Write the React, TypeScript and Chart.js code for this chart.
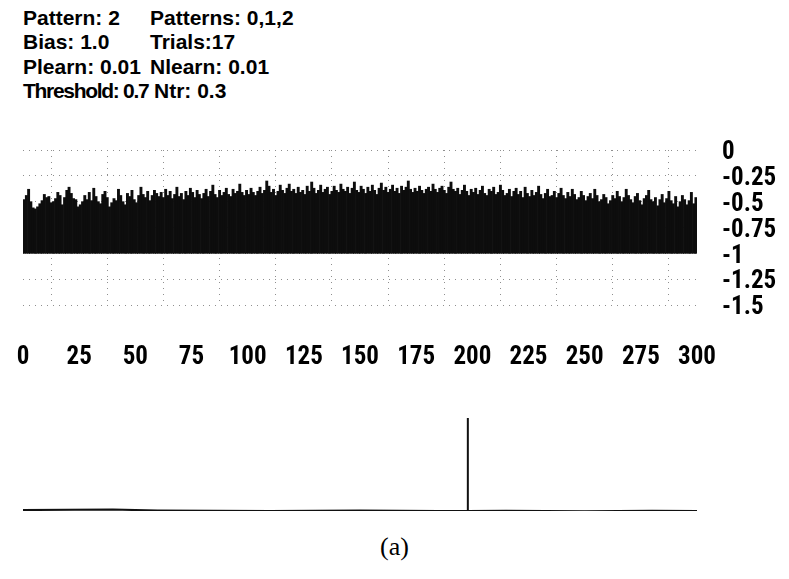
import React, { useEffect, useRef } from "react";
import { Chart, registerables } from "chart.js";

Chart.register(...registerables);

// ---- header texts ----
const headerLeft = ["Pattern: 2", "Bias: 1.0", "Plearn: 0.01", "Threshold: 0.7"];
const headerRight = ["Patterns: 0,1,2", "Trials:17", "Nlearn: 0.01", "Ntr: 0.3"];
const caption = "(a)";

// ---- axes ----
const xMin = 0;
const xMax = 300;
const xStep = 25;
const yMin = -1.5;
const yMax = 0;
const yStep = 0.25;
const barBase = -1;

// ---- top chart: activation per trial step (bar tops, base at -1) ----
const activation = [
  -0.48, -0.44, -0.38, -0.50, -0.56, -0.57, -0.55, -0.52, -0.49, -0.43, -0.46, -0.45, -0.51, -0.50, -0.47, -0.41, -0.44, -0.53, -0.46, -0.39,
  -0.36, -0.42, -0.47, -0.48, -0.55, -0.53, -0.50, -0.44, -0.48, -0.41, -0.49, -0.37, -0.45, -0.50, -0.52, -0.43, -0.40, -0.46, -0.55, -0.51,
  -0.47, -0.49, -0.38, -0.44, -0.50, -0.53, -0.42, -0.45, -0.39, -0.48, -0.51, -0.44, -0.36, -0.43, -0.46, -0.40, -0.49, -0.44, -0.39, -0.42,
  -0.45, -0.41, -0.46, -0.38, -0.44, -0.40, -0.47, -0.43, -0.36, -0.45, -0.42, -0.48, -0.40, -0.44, -0.37, -0.41, -0.46, -0.39, -0.43, -0.47,
  -0.42, -0.38, -0.45, -0.40, -0.34, -0.43, -0.46, -0.39, -0.44, -0.41, -0.37, -0.43, -0.45, -0.38, -0.42, -0.40, -0.33, -0.41, -0.44, -0.39,
  -0.43, -0.37, -0.41, -0.44, -0.40, -0.36, -0.42, -0.39, -0.30, -0.35, -0.41, -0.38, -0.44, -0.40, -0.34, -0.39, -0.42, -0.37, -0.33, -0.40,
  -0.38, -0.42, -0.36, -0.41, -0.39, -0.43, -0.35, -0.40, -0.31, -0.37, -0.42, -0.39, -0.34, -0.41, -0.38, -0.36, -0.43, -0.40, -0.35, -0.39,
  -0.41, -0.33, -0.38, -0.40, -0.36, -0.42, -0.37, -0.31, -0.39, -0.41, -0.35, -0.38, -0.42, -0.36, -0.40, -0.34, -0.39, -0.43, -0.37, -0.32,
  -0.39, -0.36, -0.41, -0.38, -0.34, -0.40, -0.37, -0.42, -0.35, -0.39, -0.36, -0.30, -0.38, -0.41, -0.37, -0.40, -0.35, -0.39, -0.42, -0.38,
  -0.36, -0.40, -0.33, -0.38, -0.41, -0.37, -0.35, -0.39, -0.42, -0.36, -0.31, -0.38, -0.40, -0.37, -0.43, -0.39, -0.34, -0.40, -0.44, -0.38,
  -0.41, -0.37, -0.43, -0.39, -0.35, -0.42, -0.44, -0.38, -0.40, -0.36, -0.43, -0.41, -0.34, -0.39, -0.44, -0.42, -0.38, -0.45, -0.40, -0.37,
  -0.43, -0.40, -0.46, -0.36, -0.42, -0.45, -0.39, -0.44, -0.41, -0.35, -0.43, -0.47, -0.42, -0.38, -0.45, -0.44, -0.40, -0.46, -0.42, -0.37,
  -0.44, -0.47, -0.41, -0.45, -0.38, -0.43, -0.48, -0.46, -0.40, -0.44, -0.49, -0.45, -0.42, -0.47, -0.38, -0.44, -0.50, -0.48, -0.43, -0.46,
  -0.52, -0.49, -0.44, -0.47, -0.40, -0.45, -0.50, -0.46, -0.38, -0.44, -0.48, -0.51, -0.45, -0.42, -0.49, -0.53, -0.47, -0.44, -0.39, -0.48,
  -0.50, -0.46, -0.54, -0.48, -0.43, -0.51, -0.47, -0.40, -0.49, -0.52, -0.45, -0.55, -0.50, -0.44, -0.48, -0.53, -0.49, -0.41, -0.52, -0.46,
];

// ---- bottom chart: output trace (single spike) ----
const outputX = [0, 40, 60, 110, 150, 185, 198, 198, 198, 215, 250, 280, 300];
const outputY = [0.01, 0.015, 0.005, 0.0, 0.006, 0.0, 0.0, 1.0, 0.0, 0.004, -0.003, 0.002, 0.0];

const tickFont = { family: "'Roboto Condensed', 'Liberation Sans', Arial, sans-serif", size: 25, weight: "bold" as const };
const headerFont = "bold 21px 'Liberation Sans', Arial, sans-serif";
const gridColor = "#8f8f8f";

export default function App() {
  const topRef = useRef<HTMLCanvasElement>(null);
  const botRef = useRef<HTMLCanvasElement>(null);

  useEffect(() => {
    const top = new Chart(topRef.current!, {
      type: "bar",
      data: {
        datasets: [
          {
            data: activation.map((v, i) => ({ x: i + 0.5, y: [barBase, v] })) as any,
            backgroundColor: "#0d0d0d",
            borderWidth: 0,
            barPercentage: 1,
            categoryPercentage: 1,
          },
        ],
      },
      options: {
        animation: false,
        responsive: false,
        maintainAspectRatio: false,
        events: [],
        plugins: { legend: { display: false }, tooltip: { enabled: false } },
        layout: { padding: { left: 15, top: 22, right: 0, bottom: 0 } },
        scales: {
          x: {
            type: "linear",
            min: xMin,
            max: xMax,
            offset: false,
            grid: { color: gridColor, lineWidth: 1, drawTicks: true, tickLength: 38, tickColor: "rgba(0,0,0,0)" },
            border: { display: false, dash: [1, 5] },
            ticks: { stepSize: xStep, autoSkip: false, maxRotation: 0, padding: 0, color: "#000", font: tickFont },
            afterFit: (s: any) => {
              s.height = 75;
            },
          },
          y: {
            position: "right",
            min: yMin,
            max: yMax,
            grid: { color: gridColor, lineWidth: 1, drawTicks: true, tickLength: 25, tickColor: "rgba(0,0,0,0)" },
            border: { display: false, dash: [1, 5] },
            ticks: {
              stepSize: yStep,
              autoSkip: false,
              padding: 0,
              labelOffset: 3,
              color: "#000",
              font: tickFont,
              callback: (v: any) => String(Math.round(Number(v) * 100) / 100),
            },
            afterFit: (s: any) => {
              s.width = 91;
            },
          },
        },
      },
    });

    const bot = new Chart(botRef.current!, {
      type: "line",
      data: {
        datasets: [
          {
            data: outputX.map((x, i) => ({ x, y: outputY[i] })),
            borderColor: "#111111",
            borderWidth: 2,
            pointRadius: 0,
            tension: 0,
            fill: false,
          },
        ],
      },
      options: {
        animation: false,
        responsive: false,
        maintainAspectRatio: false,
        events: [],
        plugins: { legend: { display: false }, tooltip: { enabled: false } },
        layout: { padding: { left: 15, right: 91, top: 18, bottom: 14 } },
        scales: {
          x: { type: "linear", min: xMin, max: xMax, display: false },
          y: { type: "linear", min: 0, max: 1, display: false },
        },
      },
    });

    return () => {
      top.destroy();
      bot.destroy();
    };
  }, []);

  const lineTops = [5, 29, 54, 78];

  return (
    <div style={{ position: "absolute", left: 0, top: 0, width: 789, height: 579, background: "#fff" }}>
      {headerLeft.map((t, i) => (
        <div
          key={"l" + i}
          style={{
            position: "absolute",
            left: 23,
            top: lineTops[i],
            font: headerFont,
            lineHeight: "25px",
            whiteSpace: "nowrap",
            color: "#000",
            letterSpacing: i === 3 ? "-1.3px" : "0px",
          }}
        >
          {t}
        </div>
      ))}
      {headerRight.map((t, i) => (
        <div
          key={"r" + i}
          style={{ position: "absolute", left: i === 3 ? 154 : 150, top: lineTops[i], font: headerFont, lineHeight: "25px", whiteSpace: "nowrap", color: "#000" }}
        >
          {t}
        </div>
      ))}
      <canvas ref={topRef} width={780} height={252} style={{ position: "absolute", left: 8, top: 128, width: 780, height: 252 }} />
      <canvas ref={botRef} width={780} height={125} style={{ position: "absolute", left: 8, top: 400, width: 780, height: 125 }} />
      <div style={{ position: "absolute", left: 0, width: 789, top: 532, textAlign: "center", font: "26px 'Liberation Serif', 'Times New Roman', serif", color: "#000" }}>
        {caption}
      </div>
    </div>
  );
}
